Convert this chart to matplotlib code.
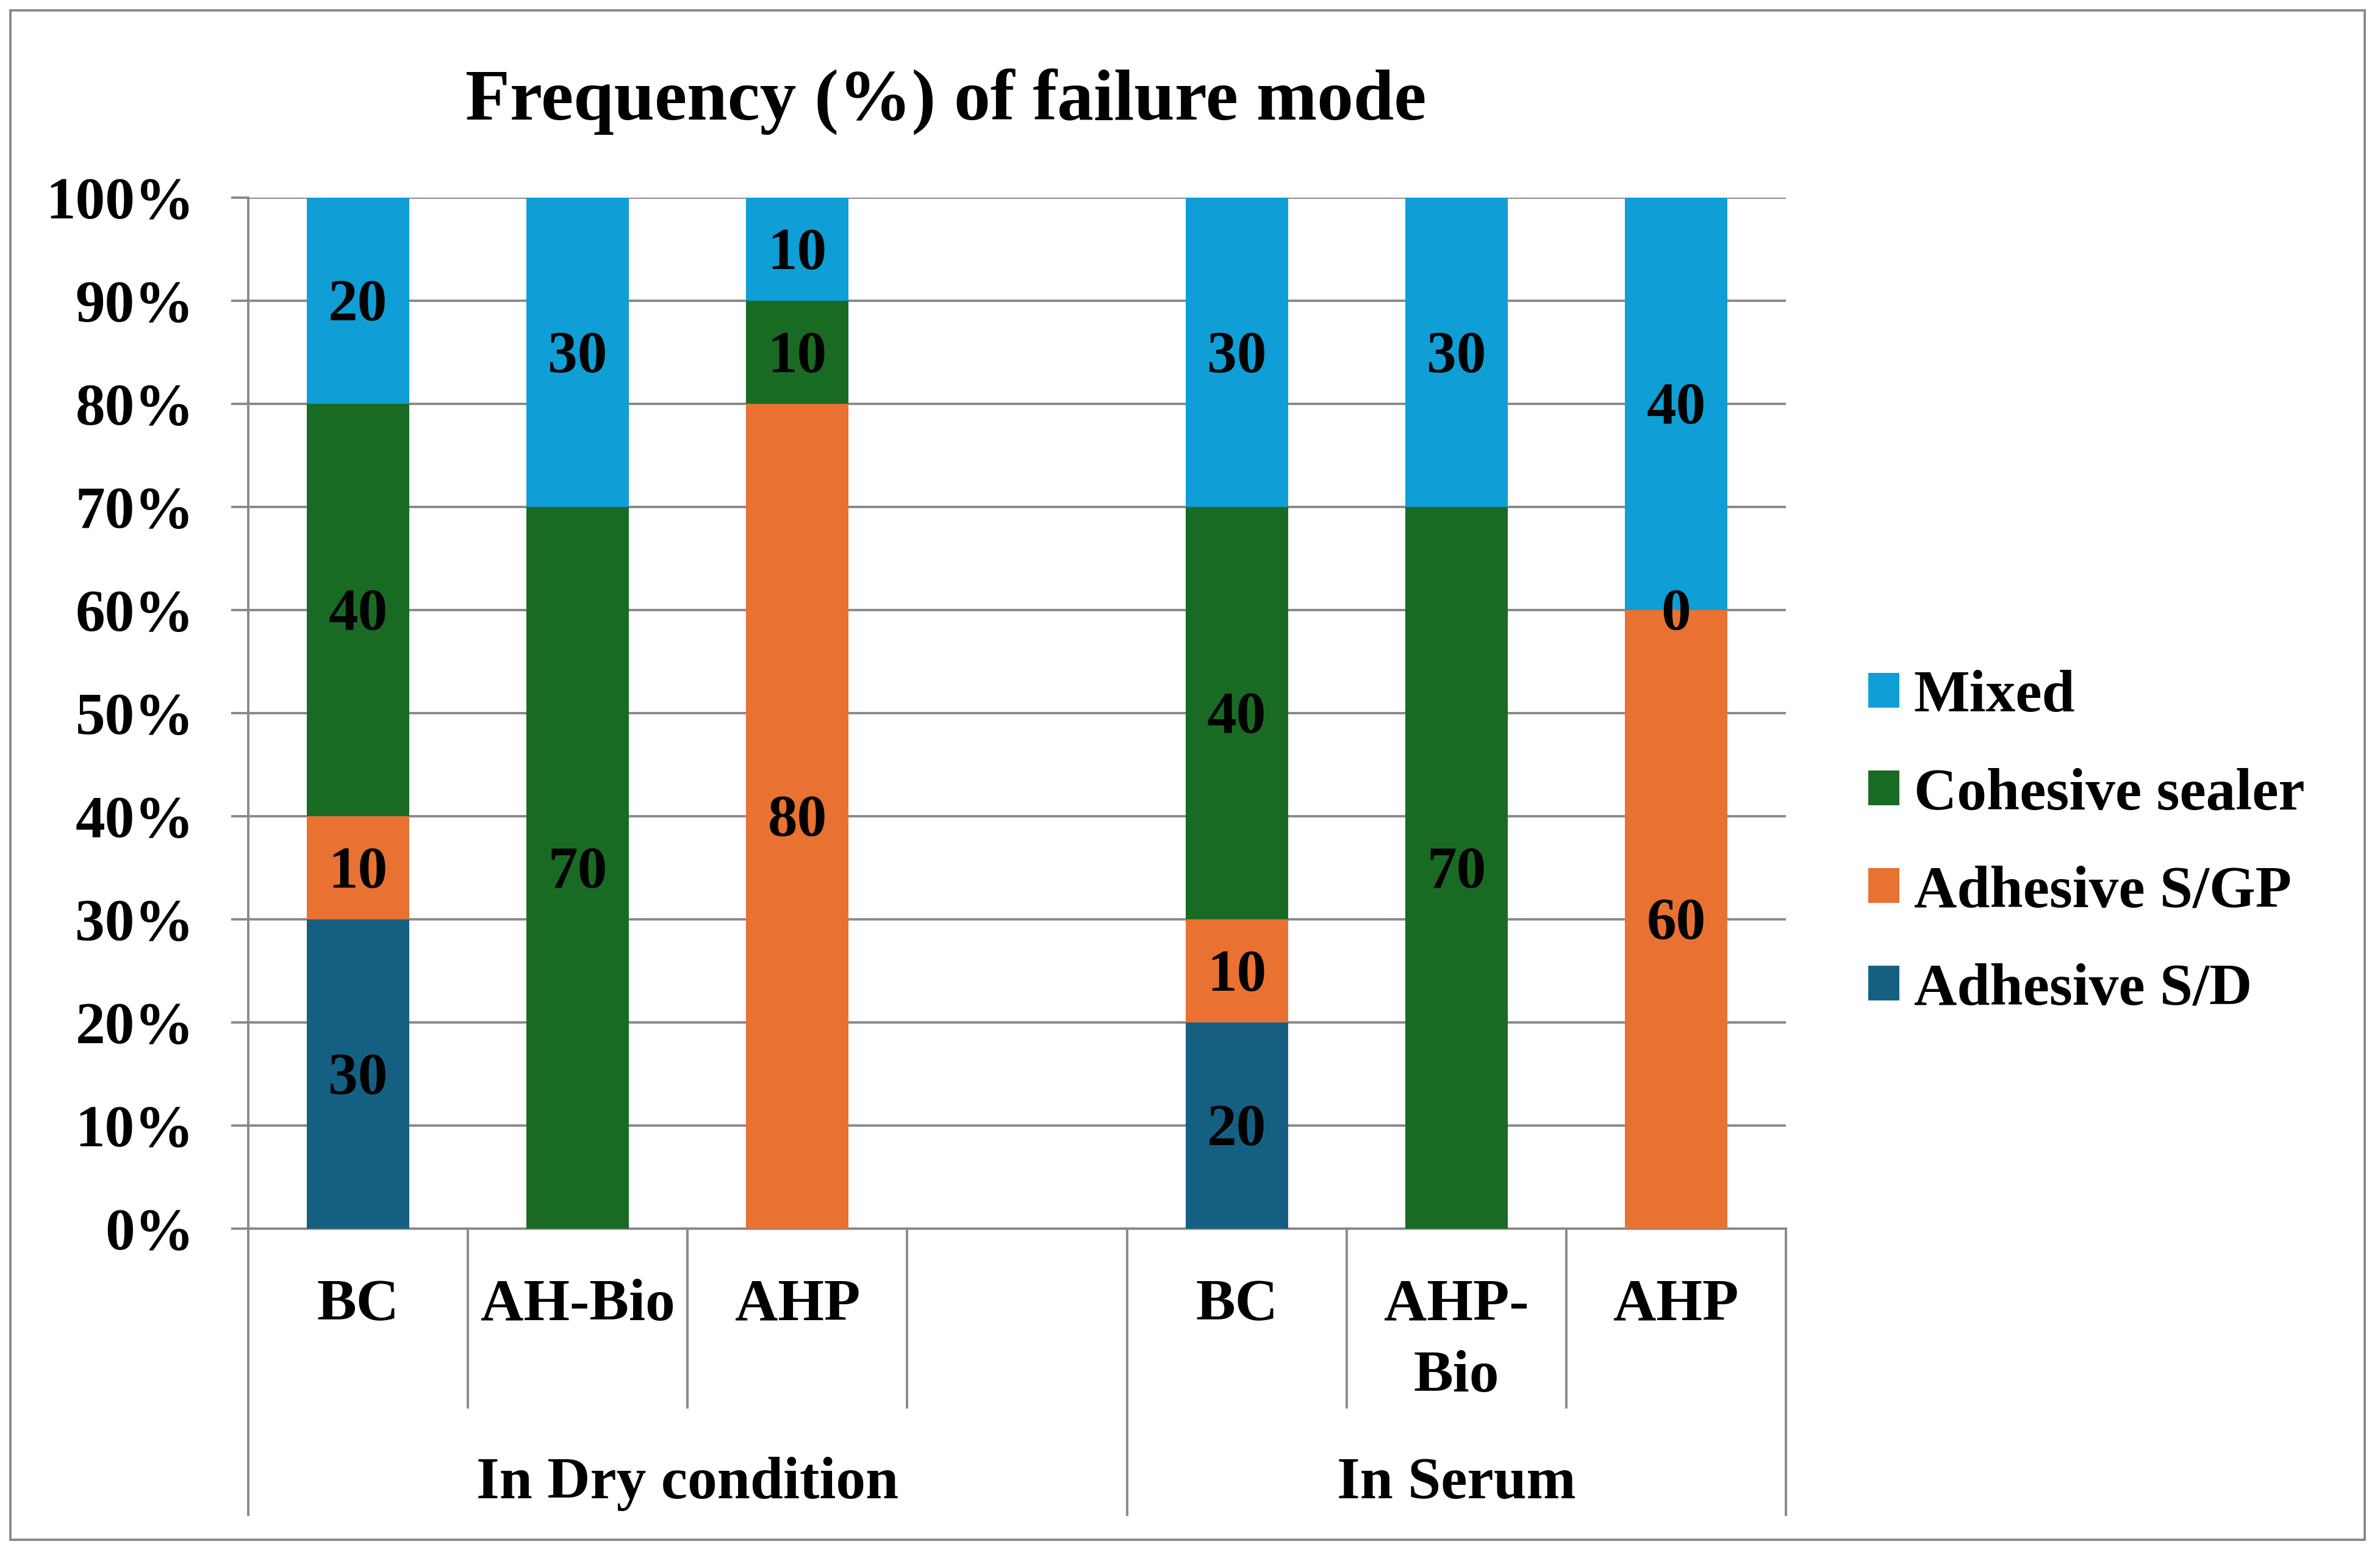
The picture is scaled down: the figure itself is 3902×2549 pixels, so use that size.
import matplotlib
matplotlib.use("Agg")
import matplotlib.pyplot as plt
from matplotlib.patches import Rectangle, Patch
from matplotlib.lines import Line2D
import matplotlib.transforms as mtrans

# ---------------- data ----------------
categories = ["BC", "AH-Bio", "AHP", "", "BC", "AHP-\nBio", "AHP"]
groups = ["In Dry condition", "In Serum"]
group_spans = [(0, 3), (4, 6)]          # category index ranges of each group
series_names = ["Adhesive S/D", "Adhesive S/GP", "Cohesive sealer", "Mixed"]
adhesive_sd = [30, None, None, None, 20, None, None]
adhesive_sgp = [10, None, 80, None, 10, None, 60]
cohesive_sealer = [40, 70, 10, None, 40, 70, 0]
mixed = [20, 30, 10, None, 30, 30, 40]
series_values = [adhesive_sd, adhesive_sgp, cohesive_sealer, mixed]
yticks = [0, 10, 20, 30, 40, 50, 60, 70, 80, 90, 100]
ytick_labels = [f"{v}%" for v in yticks]
title = "Frequency (%) of failure mode"

colors = ["#156082", "#E97132", "#196B24", "#0F9ED5"]
gray = "#898989"
FS = 70

plt.rcParams["font.family"] = ["Liberation Serif", "DejaVu Serif"]
plt.rcParams["font.weight"] = "bold"

fig = plt.figure(figsize=(39.02, 25.49), dpi=100)
ax_l, ax_b, ax_r, ax_t = 0.1043, 0.2099, 0.7504, 0.8729
ax = fig.add_axes([ax_l, ax_b, ax_r - ax_l, ax_t - ax_b])

x = list(range(len(categories)))
bottoms = [0.0] * len(categories)
bar_w = 0.467
label_offset = mtrans.ScaledTranslation(0, -0.33 * FS / 72, fig.dpi_scale_trans)
for name, vals, col in zip(series_names, series_values, colors):
    heights = [v if v is not None else 0 for v in vals]
    ax.bar(x, heights, bottom=bottoms, width=bar_w, color=col, zorder=2, linewidth=0)
    for i, v in enumerate(vals):
        if v is not None:
            ax.text(i, bottoms[i] + v / 2, str(v), ha="center", va="baseline",
                    fontsize=FS, fontweight="bold", color="black", zorder=3,
                    transform=ax.transData + label_offset)
    bottoms = [b + h for b, h in zip(bottoms, heights)]

ax.set_xlim(-0.5, len(categories) - 0.5)
ax.set_ylim(0, 100)
ax.set_yticks(yticks)
ax.set_yticklabels(ytick_labels, fontsize=FS, fontweight="bold")
ax.tick_params(axis="y", length=20, width=2.8, color=gray, pad=44)
ax.set_xticks([])
ax.yaxis.grid(True, color=gray, linewidth=2.8, zorder=0)
ax.set_axisbelow(True)
for s in ["top", "right"]:
    ax.spines[s].set_visible(False)
for s in ["left", "bottom"]:
    ax.spines[s].set_color(gray)
    ax.spines[s].set_linewidth(2.8)
    ax.spines[s].set_zorder(1)

# category separators and labels
trans = mtrans.blended_transform_factory(ax.transData, fig.transFigure)
inner_bottom = 1 - 2307 / 2549
outer_bottom = 1 - 2483 / 2549
group_edges = set()
for a, b in group_spans:
    group_edges.add(a - 0.5)
    group_edges.add(b + 0.5)
for k in range(len(categories) + 1):
    xb = k - 0.5
    yb = outer_bottom if xb in group_edges else inner_bottom
    fig.add_artist(Line2D([xb, xb], [ax_b, yb], transform=trans, color=gray,
                          linewidth=2.8, clip_on=False))
line_step = 1.2 * FS / 72  # inches between lines
for i, c in enumerate(categories):
    for j, part in enumerate(c.split("\n")):
        if not part:
            continue
        off = mtrans.ScaledTranslation(0, -j * line_step, fig.dpi_scale_trans)
        fig.text(i, 1 - 2164 / 2549, part, transform=trans + off, ha="center",
                 va="baseline", fontsize=FS, fontweight="bold")
for g, (a, b) in zip(groups, group_spans):
    fig.text((a + b) / 2, 1 - 2456 / 2549, g, transform=trans, ha="center",
             va="baseline", fontsize=FS, fontweight="bold")

# title
fig.text(0.3975, 1 - 197 / 2549, title, ha="center", va="baseline",
         fontsize=86, fontweight="bold")

# legend
handles = [Patch(facecolor=colors[i], edgecolor="none") for i in [3, 2, 1, 0]]
labels = [series_names[i] for i in [3, 2, 1, 0]]
fig.legend(handles, labels, loc="center left", bbox_to_anchor=(0.785, 0.4576),
           frameon=False, prop={"size": FS, "weight": "bold"},
           handlelength=0.526, handleheight=0.526, handletextpad=0.24,
           labelspacing=0.73, borderpad=0, borderaxespad=0)

# outer frame
fig.add_artist(Rectangle((0.0044, 0.0098), 0.9936 - 0.0044, 0.9933 - 0.0098,
                         transform=fig.transFigure, fill=False, edgecolor=gray,
                         linewidth=2.8))

fig.savefig("out.png", dpi=100, facecolor="white")
